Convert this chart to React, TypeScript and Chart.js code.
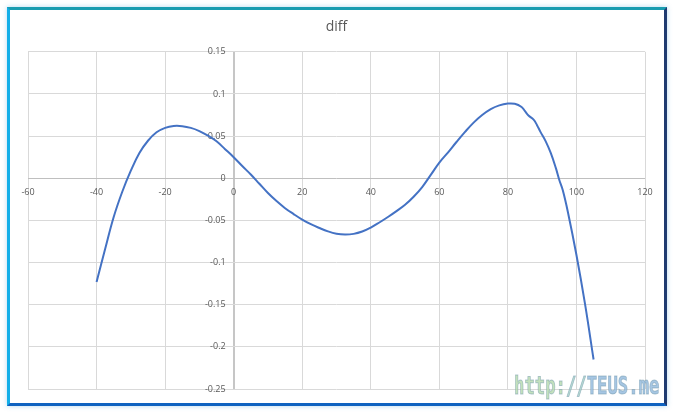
import React, { useEffect, useRef } from 'react';
import { Chart, registerables } from 'chart.js';

Chart.register(...registerables);

const chartTitle = 'diff';

const xValues = [
  -40, -37.5, -35, -32.5, -30, -27.5, -25, -22.5, -20, -17.5, -15, -12.5, -10, -7.5, -5, -2.5,
  0, 2.5, 5, 7.5, 10, 12.5, 15, 17.5, 20, 22.5, 25, 27.5, 30, 32.5, 35, 37.5, 40, 42.5, 45, 47.5,
  50, 52.5, 55, 57.5, 60, 62.5, 65, 67.5, 70, 72.5, 75, 77.5, 80, 82, 84, 85, 86, 87.5, 88.5, 89.5,
  91, 92.5, 94, 95, 96, 97.5, 100, 102.5, 105,
];

const yValues = [
  -0.123, -0.084, -0.046, -0.016, 0.009, 0.03, 0.0445, 0.0545, 0.0598, 0.062, 0.0618, 0.0598, 0.056, 0.0505, 0.0438, 0.0345,
  0.025, 0.0145, 0.0045, -0.0065, -0.0175, -0.027, -0.0355, -0.0425, -0.049, -0.0545, -0.059, -0.063, -0.0658, -0.0668, -0.066, -0.0632, -0.0585, -0.0525, -0.046, -0.039,
  -0.0315, -0.022, -0.0105, 0.004, 0.0185, 0.0305, 0.043, 0.055, 0.066, 0.075, 0.082, 0.0865, 0.0886, 0.0883, 0.0845, 0.0795, 0.0745, 0.0695, 0.063, 0.055,
  0.044, 0.03, 0.012, -0.002, -0.014, -0.04, -0.091, -0.149, -0.215,
];

const xTicks = [-60, -40, -20, 0, 20, 40, 60, 80, 100, 120];
const xTickLabels = ['-60', '-40', '-20', '0', '20', '40', '60', '80', '100', '120'];
const yTicks = [-0.25, -0.2, -0.15, -0.1, -0.05, 0, 0.05, 0.1, 0.15];
const yTickLabels = ['-0.25', '-0.2', '-0.15', '-0.1', '-0.05', '0', '0.05', '0.1', '0.15'];

const TEXT_COLOR = '#595959';
const LABEL_FONT = '9px "Open Sans", "Liberation Sans", sans-serif';

const crossLabels = {
  id: 'crossLabels',
  beforeDatasetsDraw(chart: any) {
    const { ctx } = chart;
    const xs = chart.scales.x;
    const ys = chart.scales.y;
    const x0 = xs.getPixelForValue(0);
    const y0 = ys.getPixelForValue(0);
    ctx.save();
    ctx.font = LABEL_FONT;
    ctx.fillStyle = TEXT_COLOR;
    ctx.textAlign = 'right';
    ctx.textBaseline = 'middle';
    yTicks.forEach((v, i) => {
      ctx.fillText(yTickLabels[i], x0 - 8, ys.getPixelForValue(v));
    });
    ctx.textAlign = 'center';
    xTicks.forEach((v, i) => {
      ctx.fillText(xTickLabels[i], xs.getPixelForValue(v), y0 + 14);
    });
    ctx.restore();
  },
};

function ChartView() {
  const canvasRef = useRef<HTMLCanvasElement | null>(null);

  useEffect(() => {
    const canvas = canvasRef.current;
    if (!canvas) return;
    const data = xValues.map((x, i) => ({ x, y: yValues[i] }));
    const chart = new Chart(canvas, {
      type: 'scatter',
      data: {
        datasets: [
          {
            label: chartTitle,
            data,
            showLine: true,
            borderColor: '#4472c4',
            backgroundColor: '#4472c4',
            borderWidth: 2,
            pointRadius: 0,
            pointHoverRadius: 0,
            tension: 0.4,
            fill: false,
          },
        ],
      },
      options: {
        animation: false,
        responsive: false,
        devicePixelRatio: 1,
        layout: { padding: { left: 28, right: 29, top: 0, bottom: 23 } },
        plugins: {
          legend: { display: false },
          tooltip: { enabled: false },
          title: {
            display: true,
            text: chartTitle,
            color: TEXT_COLOR,
            font: { family: '"Open Sans", "Liberation Sans", sans-serif', size: 14, weight: 'normal' },
            padding: { top: 19, bottom: 16 },
          },
        },
        scales: {
          x: {
            type: 'linear',
            min: -60,
            max: 120,
            ticks: { display: false },
            border: { display: false },
            grid: {
              drawTicks: false,
              color: (c: any) => (c.tick && c.tick.value === 0 ? '#c6c6c6' : '#d9d9d9'),
              lineWidth: (c: any) => (c.tick && c.tick.value === 0 ? 2 : 1),
            },
            afterBuildTicks: (s: any) => {
              s.ticks = xTicks.map((v) => ({ value: v }));
            },
          },
          y: {
            type: 'linear',
            min: -0.25,
            max: 0.15,
            ticks: { display: false },
            border: { display: false },
            grid: {
              drawTicks: false,
              color: (c: any) => (c.tick && c.tick.value === 0 ? '#bfbfbf' : '#d9d9d9'),
              lineWidth: 1,
            },
            afterBuildTicks: (s: any) => {
              s.ticks = yTicks.map((v) => ({ value: v }));
            },
          },
        },
      },
      plugins: [crossLabels],
    });
    return () => chart.destroy();
  }, []);

  return <canvas ref={canvasRef} width={674} height={412} style={{ position: 'absolute', left: 0, top: 0, width: 674, height: 412 }} />;
}

export default function App() {
  return (
    <div style={{ position: 'fixed', left: 0, top: 0, width: 674, height: 412, background: '#ffffff', overflow: 'hidden' }}>
      <ChartView />
      <div
        style={{
          position: 'absolute',
          left: 7,
          top: 7,
          width: 660,
          height: 399,
          boxSizing: 'border-box',
          borderTop: '3px solid #1a9cb0',
          borderLeft: '3px solid #12aee8',
          borderRight: '3px solid #1f3a70',
          borderBottom: '3px solid #0f62c0',
          boxShadow: '0 0 5px rgba(40,140,210,0.35)',
          pointerEvents: 'none',
        }}
      />
      <div
        style={{
          position: 'absolute',
          left: 514,
          top: 373,
          fontFamily: '"DejaVu Sans Mono", monospace',
          fontWeight: 'bold',
          fontSize: 25,
          lineHeight: '25px',
          whiteSpace: 'nowrap',
          transform: 'scaleX(0.69)',
          transformOrigin: 'left top',
          WebkitTextStroke: '1px rgba(110,150,170,0.5)',
          pointerEvents: 'none',
        }}
      >
        <span style={{ color: 'rgba(180,218,172,0.8)' }}>http:</span>
        <span style={{ color: 'rgba(165,208,200,0.8)' }}>//</span>
        <span style={{ color: 'rgba(150,188,222,0.85)' }}>TEUS.me</span>
      </div>
    </div>
  );
}
